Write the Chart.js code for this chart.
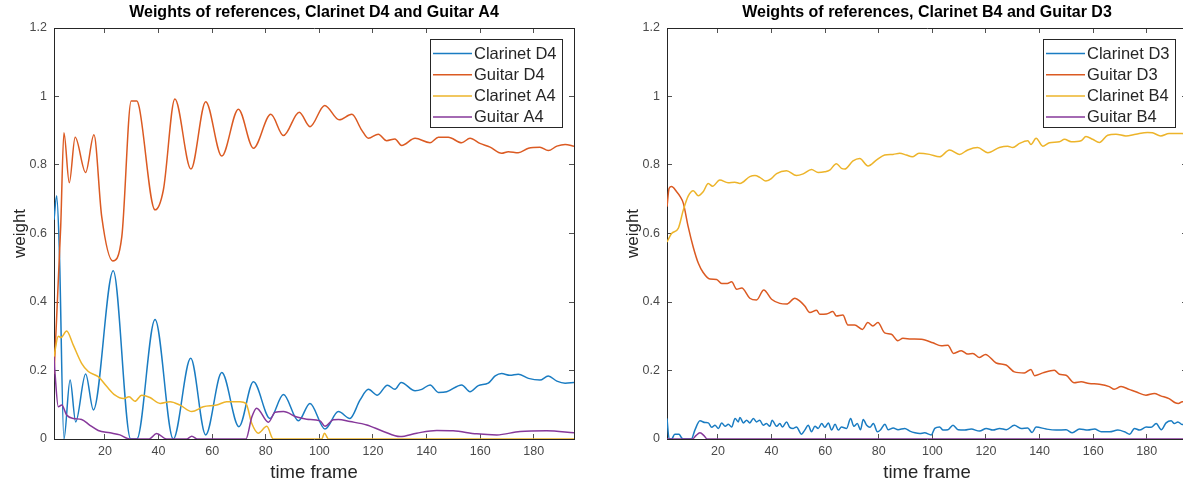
<!DOCTYPE html>
<html><head><meta charset="utf-8">
<script src="https://cdn.jsdelivr.net/npm/chart.js@4/dist/chart.umd.min.js"></script>
<style>
html,body{margin:0;padding:0;background:#fff;overflow:hidden;width:1183px;height:489px;position:relative}
.wrap{position:absolute;top:0;width:600px;height:489px}
</style></head><body>
<div class="wrap" style="left:0"><canvas id="c1" width="600" height="489"></canvas></div>
<div class="wrap" style="left:600px"><canvas id="c2" width="600" height="489"></canvas></div>
<script>
// ---- tick labels ----
const xTickValues = [20,40,60,80,100,120,140,160,180];
const xTickLabels = ['20','40','60','80','100','120','140','160','180'];
const yTickValues = [0,0.2,0.4,0.6,0.8,1,1.2];
const yTickLabels = ['0','0.2','0.4','0.6','0.8','1','1.2'];

// ---- left chart: [time frame, weight] ----
const leftTitle = 'Weights of references, Clarinet D4 and Guitar A4';
const leftNames = ['Clarinet D4','Guitar D4','Clarinet A4','Guitar A4'];
const clarinetD4 = [[1,0.64],[2,0.71],[3,0.55],[4.7,0],[7,0.172],[9.1,0.05],[12.8,0.19],[15.7,0.085],[23.1,0.491],[29.6,0],[31.9,0],[38.7,0.349],[45.5,0],[52,0.236],[57.6,0.012],[63.6,0.194],[70,0.036],[75.4,0.167],[81.6,0.06],[86.6,0.13],[92.2,0.053],[96.5,0.104],[102.1,0.029],[107.1,0.08],[111.4,0.06],[115.2,0.114],[118.3,0.145],[121.6,0.128],[125.4,0.157],[128.2,0.145],[130.5,0.165],[135.7,0.141],[138.2,0.145],[141.3,0.158],[144.4,0.136],[147.5,0.138],[153.1,0.158],[156.2,0.138],[159.3,0.156],[163,0.163],[165.6,0.184],[168,0.191],[171.1,0.186],[174.2,0.189],[178,0.177],[182.3,0.172],[185.4,0.184],[188.6,0.169],[191.7,0.163],[195,0.165]];
const guitarD4 = [[1,0.19],[3.5,0.62],[4.7,0.894],[6.7,0.748],[8.9,0.881],[12.8,0.778],[15.9,0.888],[18.8,0.649],[22.9,0.52],[26.3,0.591],[29.8,0.987],[31.9,0.987],[32.8,0.968],[38.7,0.669],[41.8,0.727],[46.1,0.993],[52.1,0.788],[57.6,0.985],[63.6,0.826],[69.8,0.963],[75.4,0.849],[81.9,0.948],[86.6,0.886],[92.5,0.954],[96.5,0.912],[102,0.974],[107.4,0.932],[112.1,0.948],[115.8,0.902],[118.3,0.878],[122,0.89],[125.1,0.871],[128.2,0.876],[130.7,0.857],[135.7,0.878],[141.3,0.865],[144.4,0.881],[148.1,0.881],[153.1,0.865],[156.2,0.878],[159.9,0.863],[163.7,0.852],[168,0.834],[170.5,0.839],[174.2,0.836],[178,0.849],[182.3,0.852],[185.4,0.842],[188.6,0.855],[191.7,0.86],[195,0.855]];
const clarinetA4 = [[1,0.24],[2.6,0.3],[3.6,0.296],[5.7,0.315],[8.2,0.274],[11.3,0.221],[13.8,0.197],[17.5,0.182],[20.7,0.153],[23.8,0.128],[26.9,0.118],[29,0.123],[31.2,0.11],[33.7,0.128],[36.8,0.121],[40.6,0.104],[44.3,0.109],[48,0.099],[52.4,0.08],[56.7,0.094],[61.7,0.099],[65.4,0.109],[70.4,0.109],[72.6,0.104],[74.8,0.045],[77.2,0.017],[80.4,0.037],[82.8,0],[100.9,0],[101.9,0.017],[103.4,0],[195,0]];
const guitarA4 = [[1,0.24],[1.4,0.19],[2.6,0.094],[3.9,0.099],[5.7,0.07],[8.2,0.06],[11.3,0.057],[14.4,0.04],[17.5,0.025],[21.9,0.018],[25.6,0.012],[29.3,0],[36.5,0],[39.3,0.016],[43,0],[50.5,0],[52.4,0.008],[54.5,0],[72.6,0],[74.8,0.064],[76.6,0.09],[81,0.049],[83.5,0.078],[86.6,0.08],[91.6,0.064],[95.3,0.058],[100.3,0.053],[102.1,0.037],[105.2,0.056],[107.1,0.057],[111.4,0.051],[117.7,0.041],[123.9,0.022],[130.1,0.007],[136.3,0.017],[143.8,0.025],[149.9,0.024],[158.7,0.015],[166.2,0.012],[174.9,0.022],[184.8,0.024],[195,0.018]];

// ---- right chart ----
const rightTitle = 'Weights of references, Clarinet B4 and Guitar D3';
const rightNames = ['Clarinet D3','Guitar D3','Clarinet B4','Guitar B4'];
const clarinetD3 = [[1,0.06],[1.8,0],[2.7,0],[3.9,0.014],[5.5,0.014],[6.3,0.005],[7,0],[10.1,0],[11.4,0.026],[13.3,0.053],[15.2,0.048],[16.4,0.047],[17.7,0.034],[18.9,0.04],[20.2,0.031],[21.4,0.047],[22.7,0.037],[23.9,0.043],[25.1,0.035],[26.4,0.06],[27.6,0.05],[28.2,0.063],[29.5,0.047],[30.7,0.055],[31.9,0.047],[33.2,0.06],[34.4,0.05],[35.6,0.055],[36.9,0.04],[38.1,0.045],[39.4,0.037],[40.2,0.055],[41.9,0.037],[43.1,0.045],[44.1,0.035],[45.6,0.05],[46.8,0.034],[48.1,0.031],[49.3,0.035],[51.2,0.014],[52.4,0.026],[53.7,0.04],[54.9,0.021],[56.2,0.037],[57.4,0.031],[58.7,0.045],[59.9,0.034],[61.2,0.047],[62.4,0.026],[63.7,0.043],[64.9,0.026],[66.1,0.035],[68,0.031],[69.5,0.06],[70.7,0.037],[72,0.045],[73.2,0.027],[74.2,0.057],[75.5,0.04],[76.7,0.034],[78,0.045],[79.5,0.021],[80.7,0.027],[82.3,0.043],[83.5,0.027],[85.4,0.032],[87.2,0.027],[89.7,0.031],[91.6,0.023],[93.5,0.018],[95.3,0.016],[97.1,0.018],[99.6,0.012],[100.9,0.031],[102.7,0.035],[104,0.026],[105.8,0.027],[107.7,0.04],[109.6,0.027],[112.1,0.026],[114.5,0.029],[117.6,0.023],[120.1,0.031],[122.6,0.026],[125.1,0.031],[127.6,0.027],[130.6,0.04],[133.1,0.031],[135.6,0.032],[137.2,0.019],[138.7,0.035],[142.5,0.029],[146.2,0.026],[149.9,0.027],[152.2,0.018],[154.9,0.029],[158,0.026],[160.5,0.029],[163,0.021],[166.1,0.021],[169.2,0.026],[171.7,0.021],[173.6,0.014],[175.4,0.031],[177.3,0.026],[179.8,0.035],[181.6,0.034],[183.5,0.045],[185.4,0.027],[187.2,0.047],[189.1,0.053],[190.3,0.045],[191.6,0.05],[193.3,0.042],[195,0.045]];
const guitarD3 = [[1,0.678],[1.8,0.732],[2.7,0.737],[4.6,0.722],[5.8,0.709],[7.1,0.688],[8.9,0.62],[10.8,0.56],[12.7,0.513],[14.5,0.486],[17,0.467],[19.5,0.466],[21.4,0.454],[23.5,0.454],[25.1,0.459],[27,0.437],[28.9,0.441],[31.9,0.411],[34.4,0.406],[37.1,0.435],[40,0.408],[43.1,0.396],[45.6,0.394],[48.7,0.411],[50.8,0.401],[52.4,0.388],[54.3,0.369],[56.8,0.376],[58,0.364],[60.5,0.365],[62.9,0.372],[64.2,0.359],[66.6,0.362],[68.5,0.333],[71,0.333],[73.9,0.32],[75.9,0.34],[77.8,0.33],[79.7,0.34],[82.2,0.31],[84.7,0.306],[87.1,0.287],[89,0.294],[92.1,0.292],[95.9,0.291],[100.2,0.281],[103.3,0.272],[105.8,0.274],[107.9,0.25],[110.8,0.258],[113.2,0.248],[115.1,0.25],[117.6,0.238],[119.8,0.247],[123.8,0.222],[127.5,0.216],[130.6,0.196],[134.3,0.193],[136.8,0.203],[138.1,0.185],[141.2,0.193],[145.5,0.201],[147.4,0.189],[149.9,0.186],[152.9,0.164],[155.5,0.167],[158.5,0.162],[162.3,0.16],[166,0.153],[167.9,0.145],[170.4,0.153],[173.4,0.145],[175.9,0.138],[179.7,0.128],[182.8,0.133],[185.2,0.126],[188.3,0.118],[190.6,0.106],[191.8,0.104],[193.2,0.109],[195,0.108]];
const clarinetB4 = [[1,0.575],[2.7,0.6],[5.2,0.615],[7.1,0.669],[8.9,0.709],[10.8,0.725],[12.7,0.71],[14.5,0.722],[16.4,0.746],[18,0.738],[20.7,0.756],[23.8,0.748],[26.3,0.75],[28.2,0.746],[31.9,0.766],[33.8,0.769],[35.6,0.764],[37.9,0.753],[40,0.761],[41.9,0.775],[45.6,0.783],[49.3,0.769],[51.8,0.774],[54.9,0.787],[57.4,0.778],[59.8,0.78],[61.7,0.785],[64.2,0.804],[66.1,0.79],[67.3,0.788],[70.4,0.812],[72.9,0.819],[76,0.797],[79.1,0.814],[82.2,0.829],[85.3,0.831],[87.8,0.834],[90.3,0.829],[92.5,0.824],[95,0.834],[98.9,0.831],[102.7,0.824],[106.4,0.844],[110.1,0.831],[113.2,0.844],[116.9,0.851],[120.7,0.836],[125,0.851],[128.1,0.855],[130,0.851],[132.5,0.863],[135.6,0.871],[136.8,0.86],[138.7,0.878],[141.2,0.855],[143.7,0.865],[147.4,0.868],[149.3,0.875],[151.8,0.868],[155.5,0.871],[157.3,0.883],[159.8,0.875],[162.3,0.866],[165.4,0.887],[168.5,0.89],[172.2,0.885],[175.9,0.89],[180.3,0.895],[182.1,0.894],[185.2,0.885],[188.3,0.892],[193.2,0.892],[195,0.89]];
const guitarB4 = [[1,0],[10.5,0],[11.8,0.01],[13.3,0.018],[14.8,0.01],[16,0],[195,0]];

const seriesColors = ['#1a7cc2','#db5a22','#edb42a','#86389a'];
const FONT = '"Liberation Sans", Arial, Helvetica, sans-serif';
const AX = '#262626';

const titlePlugin = {
  id: 'axTitle',
  afterDraw(chart, args, opts) {
    const {ctx, chartArea} = chart;
    ctx.save();
    ctx.font = 'bold 16px ' + FONT;
    ctx.fillStyle = '#000';
    ctx.textAlign = 'center';
    ctx.textBaseline = 'middle';
    ctx.fillText(opts.text, (chartArea.left + chartArea.right) / 2, 12.5);
    ctx.restore();
  }
};
const boxLegend = {
  id: 'boxLegend',
  afterDraw(chart) {
    const {ctx, chartArea} = chart;
    const w = 132, h = 88;
    const x = Math.round(chartArea.right - 12 - w), y = Math.round(chartArea.top + 11);
    ctx.save();
    ctx.fillStyle = '#fff';
    ctx.fillRect(x, y, w, h);
    ctx.strokeStyle = AX; ctx.lineWidth = 1;
    ctx.strokeRect(x + 0.5, y + 0.5, w, h);
    ctx.font = '16.5px ' + FONT;
    ctx.textBaseline = 'middle';
    ctx.textAlign = 'left';
    chart.data.datasets.forEach((ds, i) => {
      const yy = y + 14.5 + i * 21.2;
      ctx.strokeStyle = ds.borderColor; ctx.lineWidth = 1.5;
      ctx.beginPath(); ctx.moveTo(x + 3, yy); ctx.lineTo(x + 42, yy); ctx.stroke();
      ctx.fillStyle = AX;
      ctx.fillText(ds.label, x + 44, yy + 0.5);
    });
    ctx.restore();
  }
};

function xScale(pos, h, withLabels) {
  return {
    type: 'linear', position: pos, min: 1, max: 195,
    afterBuildTicks: s => { s.ticks = xTickValues.map(v => ({value: v})); },
    afterFit: s => { s.height = h; },
    ticks: {display: withLabels, autoSkip: false, maxRotation: 0, padding: 10, color: '#4a4a4a',
      font: {family: FONT, size: 12.5}, callback: (v, i) => xTickLabels[i]},
    grid: {drawOnChartArea: false, drawTicks: true, tickLength: -5, color: AX, lineWidth: 0.8},
    border: {display: true, color: AX, width: 1},
    title: withLabels ? {display: true, text: 'time frame', color: AX, font: {family: FONT, size: 18.5}, padding: {top: 0, bottom: 5}} : {display: false}
  };
}
function yScale(pos, w, withLabels, titlePad) {
  return {
    type: 'linear', position: pos, min: 0, max: 1.2,
    afterBuildTicks: s => { s.ticks = yTickValues.map(v => ({value: v})); },
    afterFit: s => { s.width = w; },
    ticks: {display: withLabels, autoSkip: false, padding: 12, color: '#4a4a4a',
      font: {family: FONT, size: 12.5}, callback: (v, i) => yTickLabels[i]},
    grid: {drawOnChartArea: false, drawTicks: true, tickLength: -5, color: AX, lineWidth: 0.8},
    border: {display: true, color: AX, width: 1},
    title: withLabels ? {display: true, text: 'weight', color: AX, font: {family: FONT, size: 17}, padding: {top: titlePad, bottom: 0}} : {display: false}
  };
}

function makeChart(id, title, names, series, leftW, rightW, titlePad) {
  const datasets = series.map((s, i) => ({
    label: names[i],
    data: s.map(p => ({x: p[0], y: p[1]})),
    borderColor: seriesColors[i],
    borderWidth: 1.5,
    pointRadius: 0,
    fill: false,
    order: 4 - i,
    cubicInterpolationMode: 'monotone'
  }));
  return new Chart(document.getElementById(id), {
    type: 'line',
    data: {datasets},
    options: {
      responsive: false, animation: false, devicePixelRatio: 1,
      layout: {padding: 0},
      plugins: {legend: {display: false}, tooltip: {enabled: false}, title: {display: false}, axTitle: {text: title}},
      scales: {
        x: xScale('bottom', 50, true),
        x2: xScale('top', 28, false),
        y: yScale('left', leftW, true, titlePad),
        y2: yScale('right', rightW, false, 0)
      }
    },
    plugins: [titlePlugin, boxLegend]
  });
}

makeChart('c1', leftTitle, leftNames, [clarinetD4, guitarD4, clarinetA4, guitarA4], 54, 26, 10);
makeChart('c2', rightTitle, rightNames, [clarinetD3, guitarD3, clarinetB4, guitarB4], 67, 13, 23);
</script>
</body></html>
